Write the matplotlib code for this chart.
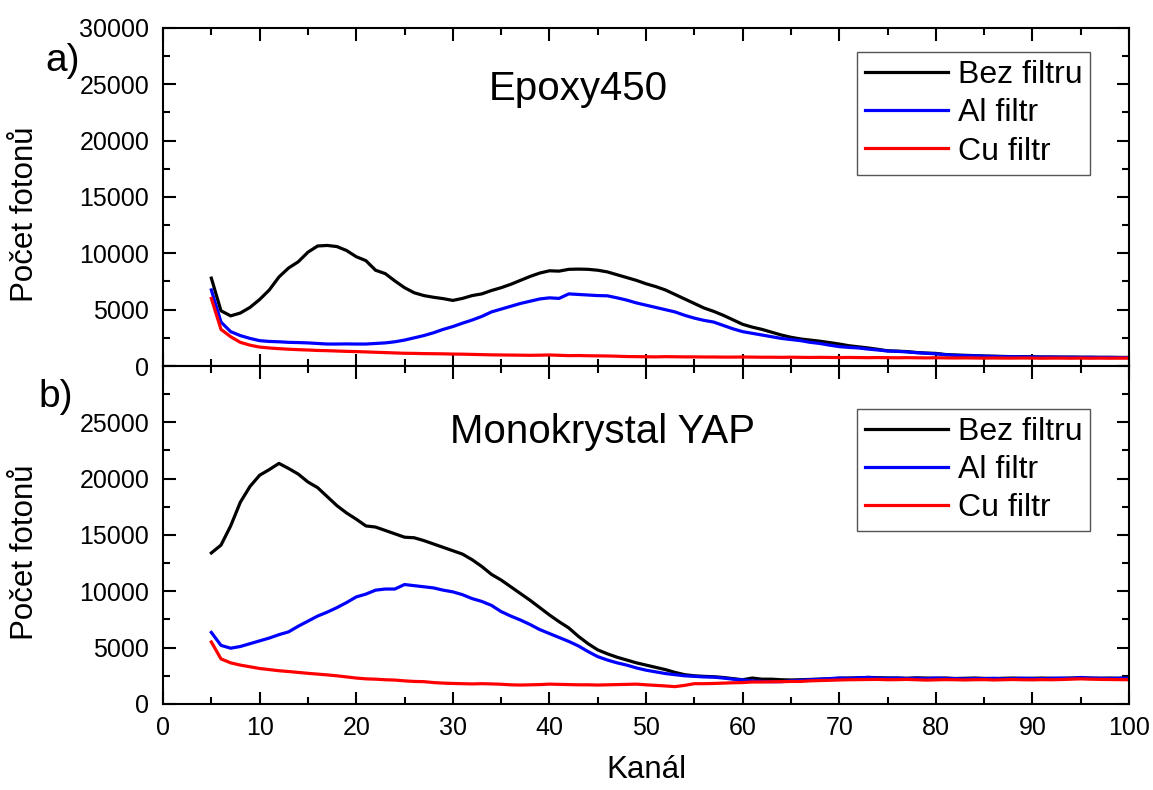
import matplotlib
matplotlib.use("Agg")
import matplotlib.pyplot as plt
import numpy as np
from matplotlib.ticker import MultipleLocator

plt.rcParams['font.family'] = ['Liberation Sans', 'DejaVu Sans']

# channel axis (5..100)
kanal = np.arange(5, 101)

# a) Epoxy450
epoxy_bez = [7800, 4900, 4450, 4700, 5200, 5900, 6750, 7900, 8700, 9250,
             10100, 10650, 10700, 10600, 10250, 9700, 9350, 8500, 8200, 7550,
             6950, 6500, 6250, 6100, 5980, 5820, 6000, 6250, 6400, 6700,
             6950, 7250, 7600, 7950, 8250, 8450, 8420, 8580, 8600, 8580,
             8500, 8350, 8100, 7850, 7600, 7300, 7050, 6750, 6350, 5950,
             5550, 5150, 4850, 4500, 4100, 3700, 3450, 3250, 3000, 2750,
             2550, 2400, 2300, 2200, 2080, 1950, 1800, 1700, 1600, 1480,
             1350, 1320, 1280, 1200, 1150, 1120, 1020, 980, 950, 920,
             890, 870, 850, 830, 830, 820, 800, 800, 790, 790,
             780, 780, 770, 770, 760, 760]
epoxy_al = [6750, 3900, 3050, 2700, 2450, 2250, 2180, 2150, 2100, 2080,
            2050, 2000, 1950, 1950, 1960, 1950, 1950, 2000, 2050, 2150,
            2300, 2500, 2700, 2950, 3250, 3500, 3800, 4080, 4400, 4800,
            5050, 5300, 5550, 5750, 5950, 6050, 6000, 6400, 6350, 6300,
            6250, 6230, 6050, 5850, 5600, 5400, 5200, 5000, 4800, 4500,
            4250, 4050, 3900, 3600, 3300, 3050, 2900, 2750, 2600, 2450,
            2350, 2250, 2100, 2000, 1850, 1720, 1650, 1600, 1500, 1420,
            1330, 1300, 1250, 1180, 1130, 1080, 1000, 950, 920, 900,
            870, 850, 830, 820, 810, 800, 790, 790, 780, 780,
            770, 770, 760, 760, 750, 750]
epoxy_cu = [6000, 3250, 2600, 2100, 1850, 1680, 1600, 1540, 1490, 1450,
            1420, 1380, 1360, 1330, 1300, 1280, 1250, 1220, 1190, 1160,
            1130, 1120, 1100, 1090, 1080, 1060, 1050, 1030, 1010, 990,
            980, 970, 960, 950, 960, 980, 950, 920, 930, 910,
            900, 890, 870, 840, 830, 820, 810, 830, 820, 810,
            810, 800, 800, 790, 790, 800, 790, 780, 780, 770,
            780, 770, 760, 770, 760, 750, 760, 750, 740, 750,
            740, 730, 740, 730, 720, 730, 720, 710, 720, 710,
            700, 710, 700, 700, 710, 700, 690, 700, 700, 690,
            700, 690, 700, 690, 700, 700]

# b) Monokrystal YAP
yap_bez = [13400, 14100, 15800, 17900, 19300, 20300, 20800, 21350, 20900, 20400,
           19700, 19200, 18400, 17600, 16950, 16400, 15800, 15700, 15400, 15100,
           14800, 14750, 14500, 14200, 13900, 13600, 13300, 12800, 12200, 11500,
           11000, 10400, 9800, 9200, 8550, 7900, 7300, 6750, 6000, 5350,
           4800, 4450, 4150, 3900, 3650, 3450, 3250, 3050, 2800, 2600,
           2500, 2450, 2420, 2350, 2250, 2150, 2300, 2200, 2200, 2150,
           2130, 2150, 2180, 2200, 2230, 2280, 2300, 2320, 2360, 2330,
           2310, 2300, 2280, 2320, 2300, 2280, 2300, 2260, 2280, 2300,
           2270, 2250, 2280, 2300, 2270, 2280, 2300, 2280, 2260, 2300,
           2320, 2290, 2280, 2300, 2280, 2350]
yap_al = [6350, 5200, 4950, 5100, 5350, 5600, 5850, 6150, 6400, 6900,
          7350, 7800, 8150, 8550, 9000, 9500, 9750, 10100, 10200, 10200,
          10600, 10500, 10400, 10300, 10100, 9950, 9700, 9350, 9100, 8750,
          8200, 7800, 7450, 7050, 6600, 6250, 5900, 5550, 5150, 4650,
          4200, 3900, 3650, 3450, 3200, 3000, 2850, 2700, 2600, 2500,
          2450, 2400, 2380, 2300, 2200, 2130, 2050, 2000, 1980, 1980,
          2050, 2100, 2150, 2200, 2250, 2300, 2280, 2320, 2350, 2300,
          2280, 2300, 2260, 2280, 2250, 2300, 2270, 2250, 2230, 2260,
          2250, 2280, 2230, 2250, 2280, 2260, 2240, 2270, 2300, 2280,
          2350, 2300, 2280, 2260, 2280, 2300]
yap_cu = [5500, 4000, 3650, 3450, 3300, 3150, 3050, 2950, 2880, 2800,
          2720, 2650, 2580, 2500, 2400, 2300, 2230, 2200, 2150, 2120,
          2050, 2000, 1980, 1900, 1850, 1820, 1800, 1780, 1800, 1780,
          1750, 1700, 1680, 1700, 1720, 1760, 1740, 1720, 1700, 1700,
          1680, 1700, 1720, 1740, 1760, 1700, 1650, 1600, 1540, 1650,
          1800, 1800, 1820, 1850, 1880, 1900, 1950, 1950, 1970, 1980,
          2000, 2000, 2050, 2080, 2100, 2130, 2150, 2160, 2170, 2180,
          2150, 2160, 2180, 2150, 2120, 2140, 2160, 2150, 2130, 2150,
          2160, 2130, 2150, 2170, 2150, 2140, 2160, 2150, 2170, 2200,
          2230, 2200, 2180, 2170, 2160, 2150]

series_labels = ['Bez filtru', 'Al filtr', 'Cu filtr']
colors = ['black', '#0000ff', '#ff0000']


fig = plt.figure(figsize=(11.53, 7.90), dpi=100)
ax1 = fig.add_axes([0.1414, 0.5367, 0.8378, 0.4279])
ax2 = fig.add_axes([0.1414, 0.1089, 0.8378, 0.4279], sharex=ax1)

panels = [(ax1, [epoxy_bez, epoxy_al, epoxy_cu], 'Epoxy450', (0.43, 0.82), 0.929),
          (ax2, [yap_bez, yap_al, yap_cu], 'Monokrystal YAP', (0.455, 0.805), 0.873)]

for ax, data, title, tpos, leg_top in panels:
    for vals, lab, col in zip(data, series_labels, colors):
        ax.plot(kanal, vals, color=col, lw=2.3, label=lab)
    ax.set_xlim(0, 100)
    ax.set_ylim(0, 30000)
    ax.xaxis.set_major_locator(MultipleLocator(10))
    ax.xaxis.set_minor_locator(MultipleLocator(5))
    ax.yaxis.set_major_locator(MultipleLocator(5000))
    ax.yaxis.set_minor_locator(MultipleLocator(2500))
    ax.tick_params(which='both', direction='in', top=True, right=True, width=1.5)
    ax.tick_params(which='major', length=9, labelsize=18)
    ax.tick_params(which='minor', length=5)
    ax.tick_params(axis='y', pad=10)
    ax.tick_params(axis='x', pad=9)
    for sp in ax.spines.values():
        sp.set_linewidth(1.5)
    ax.set_ylabel('Počet fotonů', fontsize=22.5)
    ax.yaxis.set_label_coords(-0.127, 0.45)
    ax.text(tpos[0], tpos[1], title, transform=ax.transAxes, fontsize=29,
            ha='center', va='center')
    leg = ax.legend(loc='upper right', bbox_to_anchor=(0.96, leg_top), fontsize=23,
                    fancybox=False, framealpha=1, edgecolor='#555555',
                    handlelength=2.6, handletextpad=0.3, labelspacing=0.26,
                    borderpad=0.25, borderaxespad=0)
    leg.get_frame().set_linewidth(1.0)

ax1.tick_params(labelbottom=False)
ax2.set_yticks(np.arange(0, 30001, 5000))
ax2.set_yticklabels([str(v) for v in range(0, 30000, 5000)] + [''])
ax2.set_xlabel('Kanál', fontsize=22.5)
ax2.xaxis.set_label_coords(0.5, -0.15)

fig.text(0.054, 0.923, 'a)', fontsize=28, ha='center', va='center')
fig.text(0.048, 0.497, 'b)', fontsize=28, ha='center', va='center')

fig.savefig('out.png', dpi=100)
